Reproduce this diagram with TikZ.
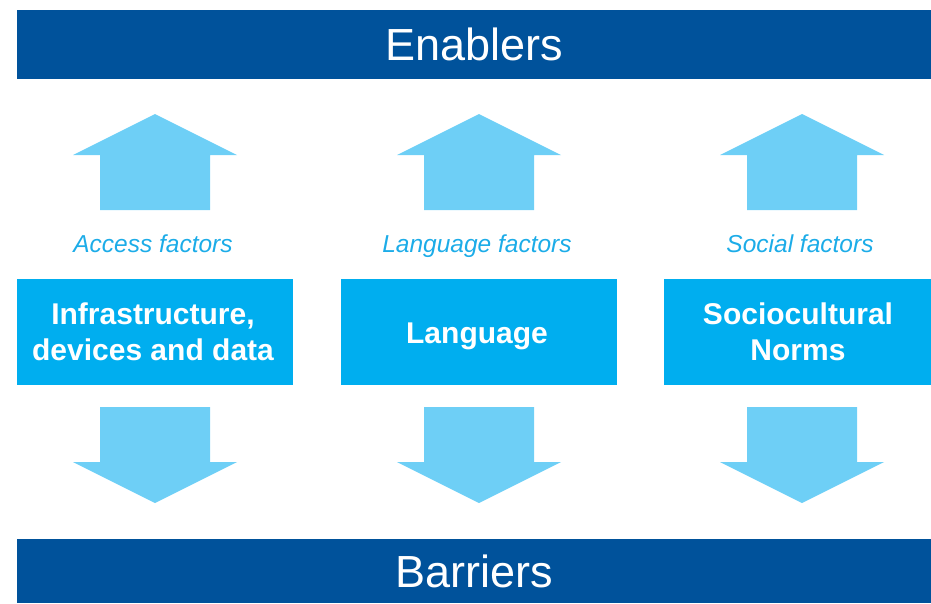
\documentclass[tikz,border=0pt]{standalone}
\usepackage{fontspec}
\setmainfont{Liberation Sans}
\definecolor{darkblue}{RGB}{0,82,155}
\definecolor{boxblue}{RGB}{0,174,239}
\definecolor{arrowblue}{RGB}{110,207,246}
\definecolor{labelblue}{RGB}{28,172,232}
\tikzset{
  bar/.style={fill=darkblue, draw=none, anchor=north west, inner sep=0pt},
  bartext/.style={text=white, anchor=base, font=\fontsize{45}{54}\selectfont, inner sep=0pt},
  factorbox/.style={fill=boxblue, draw=none, anchor=north west, inner sep=0pt, minimum height=106pt},
  boxtext/.style={text=white, align=center, font=\fontsize{30}{36}\selectfont\bfseries, inner sep=0pt},
  factorlabel/.style={text=labelblue, anchor=base, font=\fontsize{24.5}{29}\selectfont\itshape, inner sep=0pt},
  bigarrow/.style={fill=arrowblue, draw=none}
}
\begin{document}
\begin{tikzpicture}[x=1pt,y=-1pt]
\useasboundingbox (0,0) rectangle (931,603);
% bars
\node[bar, minimum width=914pt, minimum height=69pt] (topbar) at (17,10) {};
\node[bartext] (enablers) at (474,60) {Enablers};
\node[bar, minimum width=914pt, minimum height=64pt] (botbar) at (17,539) {};
\node[bartext] (barriers) at (474,587) {Barriers};
% boxes
\node[factorbox, minimum width=276pt] (box1) at (17,279) {};
\node[factorbox, minimum width=276pt] (box2) at (341,279) {};
\node[factorbox, minimum width=267pt] (box3) at (664,279) {};
\node[boxtext] (t1) at (153,332) {Infrastructure,\\devices and data};
\node[boxtext, anchor=base] (t2) at (477,343) {Language};
\node[boxtext] (t3) at (798,332) {Sociocultural\\Norms};
% labels
\node[factorlabel] (l1) at (153,252) {Access factors};
\node[factorlabel] (l2) at (477,252) {Language factors};
\node[factorlabel] (l3) at (800,252) {Social factors};
% arrows
\foreach \cx in {155,479,802}{
  \fill[bigarrow] (\cx,114) -- (\cx+82,155) -- (\cx+55,155) -- (\cx+55,210)
    -- (\cx-55,210) -- (\cx-55,155) -- (\cx-82,155) -- cycle;
  \fill[bigarrow] (\cx,503) -- (\cx+82,462) -- (\cx+55,462) -- (\cx+55,407)
    -- (\cx-55,407) -- (\cx-55,462) -- (\cx-82,462) -- cycle;
}
\end{tikzpicture}
\end{document}
